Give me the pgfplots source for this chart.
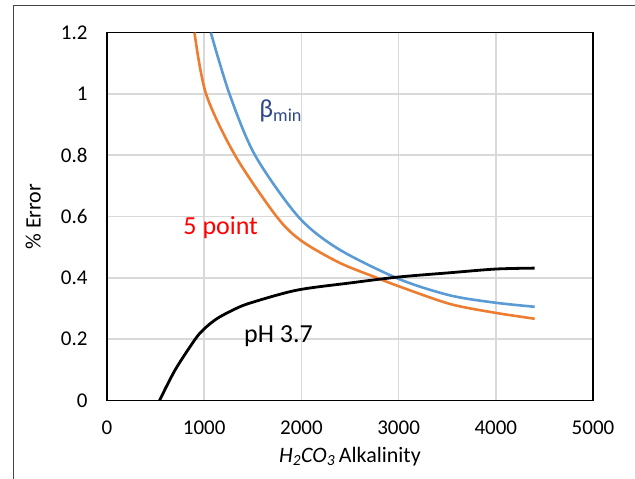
\documentclass[border=0pt]{standalone}
\usepackage{pgfplots}
\pgfplotsset{compat=1.18}
\usepackage{fontspec}
\setmainfont{Carlito}
\definecolor{xlorange}{RGB}{237,125,49}
\definecolor{xlblue}{RGB}{91,155,213}
\definecolor{darkblue}{RGB}{47,72,140}
\definecolor{gridgray}{RGB}{217,217,217}
\begin{document}
\begin{tikzpicture}[x=1pt,y=1pt]
\useasboundingbox (0,0) rectangle (635,479);
\draw[color={rgb,255:red,70;green,70;blue,70},line width=1.5pt] (13.5,0) -- (13.5,473.5) -- (635,473.5);
\begin{axis}[
  at={(107pt,78.4pt)}, anchor=south west,
  scale only axis, width=486pt, height=368pt,
  xmin=0, xmax=5000, ymin=0, ymax=1.2,
  xtick={0,1000,...,5000}, ytick={0,0.2,...,1.2},
  yticklabels={0,0.2,0.4,0.6,0.8,1,1.2},
  scaled x ticks=false,
  xticklabel style={/pgf/number format/1000 sep={}},
  /pgf/number format/assume math mode=true,
  tick style={draw=none},
  ticklabel style={font=\fontsize{21}{25}\selectfont},
  yticklabel style={xshift=-16pt},
  xticklabel style={yshift=-17pt},
  grid=major, major grid style={color=gridgray, line width=1.6pt},
  axis line style={line width=1.6pt},
  xlabel={\textit{H\textsubscript{2}CO\textsubscript{3}}\,Alkalinity},
  ylabel={\% Error},
  xlabel style={font=\fontsize{22}{26}\selectfont, at={(axis description cs:0.5,-0.169)}, anchor=base},
  ylabel style={font=\fontsize{22}{26}\selectfont, at={(axis description cs:-0.152,0.5)}, anchor=center},
  clip=true,
]
\addplot[xlorange, line width=2.6pt, smooth, tension=0.5] coordinates {
(900,1.2)(1019,1.0)(1317,0.8)(1745,0.6)(2000,0.521)(2395,0.449)(2780,0.40)(3000,0.373)(3530,0.315)(4000,0.286)(4400,0.267)};
\addplot[xlblue, line width=2.6pt, smooth, tension=0.5] coordinates {
(1068,1.2)(1260,1.0)(1523,0.8)(1967,0.6)(2378,0.495)(3000,0.397)(3530,0.343)(4000,0.319)(4400,0.306)};
\addplot[black, line width=2.8pt, smooth, tension=0.5] coordinates {
(540,0)(701,0.1)(907,0.2)(1000,0.234)(1130,0.267)(1300,0.296)(1471,0.318)(1951,0.36)(2510,0.384)(3000,0.403)(3530,0.417)(4000,0.429)(4400,0.432)};
\node[anchor=base, text=red, font=\fontsize{26}{30}\selectfont, inner sep=0pt] at (axis cs:1170,0.541) {5 point};
\node[anchor=base, text=black, font=\fontsize{26}{30}\selectfont, inner sep=0pt] at (axis cs:1765,0.19) {pH 3.7};
\node[anchor=base west, text=darkblue, font=\fontsize{26}{30}\selectfont, inner sep=0pt] at (axis cs:1566,0.922) {β\textsubscript{min}};
\end{axis}
\end{tikzpicture}
\end{document}
